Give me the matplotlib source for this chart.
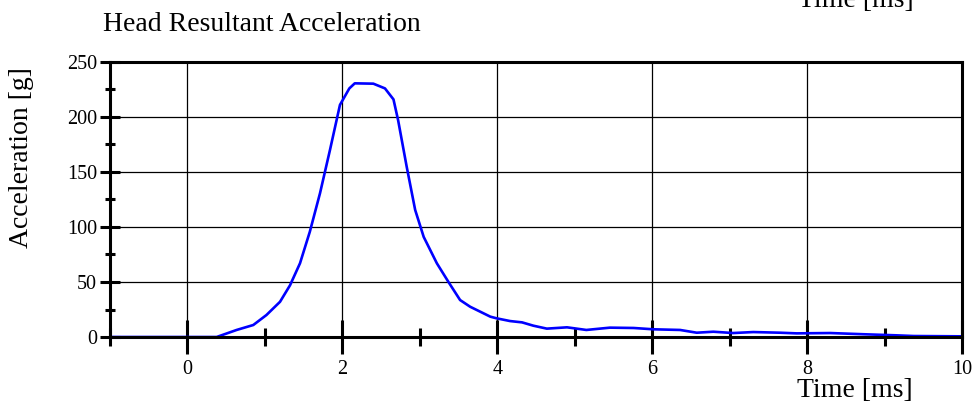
import matplotlib
matplotlib.use("Agg")
import matplotlib.pyplot as plt
from matplotlib.ticker import MultipleLocator

plt.rcParams['font.family'] = ['Liberation Serif', 'DejaVu Serif']

# head resultant acceleration
time_ms = [-1.0, 0.0, 0.377, 0.635, 0.85, 1.02, 1.195, 1.324, 1.453, 1.58, 1.711,
           1.84, 1.969, 2.09, 2.16, 2.40, 2.55, 2.66, 2.72, 2.83, 2.94, 3.05,
           3.22, 3.37, 3.52, 3.65, 3.78, 3.91, 3.99, 4.165, 4.32, 4.465, 4.64,
           4.90, 5.15, 5.455, 5.76, 6.015, 6.36, 6.575, 6.79, 7.045, 7.305,
           7.65, 7.865, 8.30, 8.73, 9.16, 9.375, 10.0]
accel_g = [0.0, 0.0, 0.0, 6.4, 10.9, 20.0, 32.0, 47.0, 67.0, 95.7, 130.6,
           170.0, 211.0, 226.0, 230.6, 230.3, 226.0, 216.0, 197.0, 155.0, 115.5, 91.0,
           67.0, 50.0, 33.6, 27.5, 23.0, 18.5, 17.0, 14.5, 13.3, 10.3, 7.6,
           8.8, 6.4, 8.5, 8.2, 7.0, 6.4, 3.9, 4.8, 3.6, 4.5,
           3.9, 3.3, 3.6, 2.5, 1.5, 0.9, 0.6]

title = "Head Resultant Acceleration"
x_label = "Time [ms]"
y_label = "Acceleration [g]"

W, H = 974, 404
fig = plt.figure(figsize=(W / 100, H / 100), dpi=100)
ax = fig.add_axes([110 / W, 1 - 337 / H, 852 / W, 275 / H])

ax.plot(time_ms, accel_g, color="#0000ff", linewidth=1.9, zorder=3)

ax.set_xlim(-1, 10)
ax.set_ylim(0, 250)
ax.xaxis.set_major_locator(MultipleLocator(2))
ax.xaxis.set_minor_locator(MultipleLocator(1))
ax.yaxis.set_major_locator(MultipleLocator(50))
ax.yaxis.set_minor_locator(MultipleLocator(25))

ax.grid(True, which="major", color="black", linewidth=0.9)

for s in ax.spines.values():
    s.set_linewidth(2.2)
    s.set_zorder(4)

ax.tick_params(axis="x", which="major", direction="inout", length=25, width=2.2,
               labelsize=14.5, pad=4)
ax.tick_params(axis="x", which="minor", direction="inout", length=13, width=2.2)
ax.tick_params(axis="y", which="major", direction="inout", length=14.4, width=2.2,
               labelsize=14.5, pad=2)
ax.tick_params(axis="y", which="minor", direction="inout", length=6.5, width=2.2)

ax.set_ylabel(y_label, fontsize=20, va="center")
ax.yaxis.set_label_coords((21 - 110) / 852, (337 - 157.5) / 275)

fig.text(103 / W, 1 - 31 / H, title, fontsize=20, ha="left", va="baseline")
fig.text(854.5 / W, 1 - 397 / H, x_label, fontsize=20, ha="center", va="baseline")
# second copy of the axis title, cut off at the top edge
fig.text(798 / W, 1 - 7 / H, x_label, fontsize=20, ha="left", va="baseline")

fig.savefig("out.png", dpi=100)
